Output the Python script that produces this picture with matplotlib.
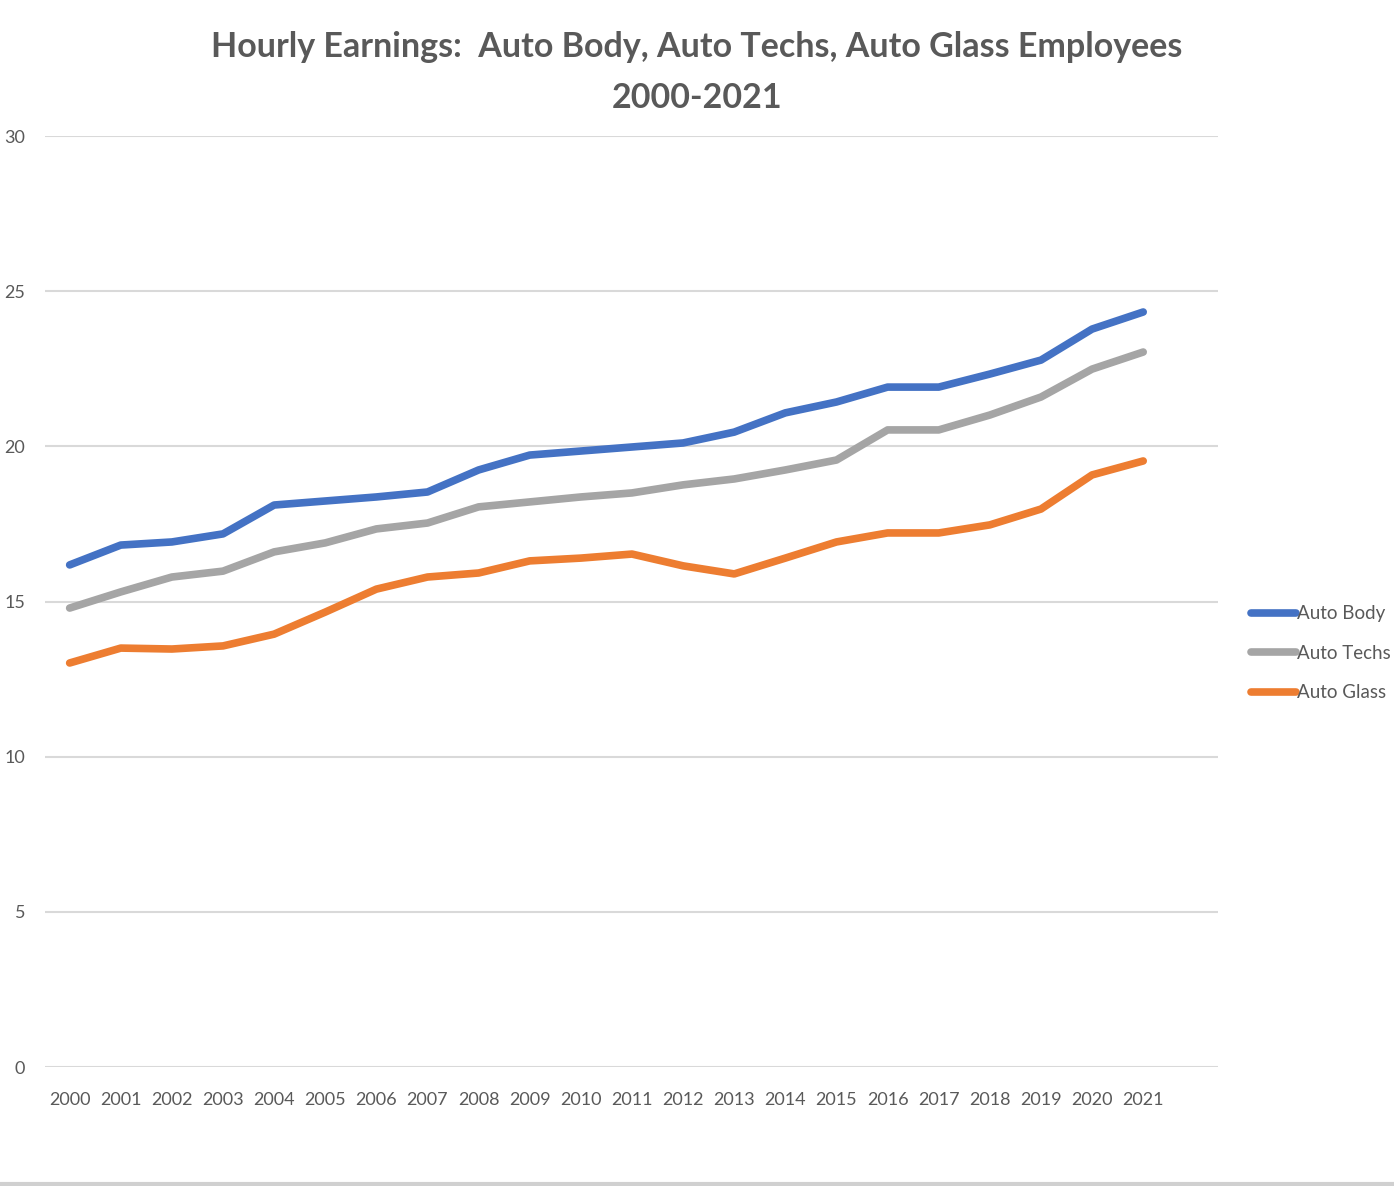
import matplotlib.pyplot as plt

years = list(range(2000, 2022))
auto_body = [16.18, 16.82, 16.92, 17.18, 18.11, 18.24, 18.37, 18.53, 19.24, 19.72, 19.85,
             19.98, 20.11, 20.46, 21.08, 21.43, 21.91, 21.91, 22.33, 22.78, 23.78, 24.33]
auto_techs = [14.79, 15.31, 15.79, 15.98, 16.60, 16.89, 17.34, 17.53, 18.05, 18.21, 18.37,
              18.50, 18.76, 18.95, 19.24, 19.56, 20.53, 20.53, 21.01, 21.59, 22.49, 23.04]
auto_glass = [13.02, 13.50, 13.47, 13.57, 13.95, 14.66, 15.40, 15.79, 15.92, 16.31, 16.40,
              16.53, 16.15, 15.89, 16.40, 16.92, 17.21, 17.21, 17.47, 17.98, 19.08, 19.53]

series = [("Auto Body", auto_body, "#4472C4"),
          ("Auto Techs", auto_techs, "#A5A5A5"),
          ("Auto Glass", auto_glass, "#ED7D31")]

plt.rcParams['font.family'] = ['Lato', 'DejaVu Sans']
text_col = "#595959"

fig = plt.figure(figsize=(13.94, 11.86), dpi=100)
ax = fig.add_axes([0.032, 0.1003, 0.842, 0.785])

for name, vals, col in series:
    ax.plot(years, vals, color=col, linewidth=5.5, label=name, solid_capstyle='round')

ax.set_ylim(0, 30)
ax.set_xlim(1999.51, 2022.47)
ax.set_yticks(range(0, 31, 5))
ax.set_xticks(years)
ax.grid(axis='y', color="#D9D9D9", linewidth=1.5)
ax.set_axisbelow(True)
for s in ax.spines.values():
    s.set_visible(False)
ax.tick_params(length=0, colors=text_col, labelsize=13)
ax.tick_params(axis='x', pad=18)
ax.tick_params(axis='y', pad=14)

fig.text(0.5, 0.974, "Hourly Earnings:  Auto Body, Auto Techs, Auto Glass Employees\n2000-2021",
         ha='center', va='top', fontsize=24.5, fontweight='bold', color=text_col,
         linespacing=1.72)

leg = fig.legend(loc='center left', bbox_to_anchor=(0.888, 0.449), frameon=False,
                 fontsize=13.5, handlelength=2.4, handletextpad=0.05, labelspacing=1.2,
                 labelcolor=text_col, borderpad=0.2)

fig.add_artist(plt.Line2D([0, 1], [0.002, 0.002], color="#D0D0D0", linewidth=3,
                          transform=fig.transFigure))

fig.savefig("out.png", dpi=100)
